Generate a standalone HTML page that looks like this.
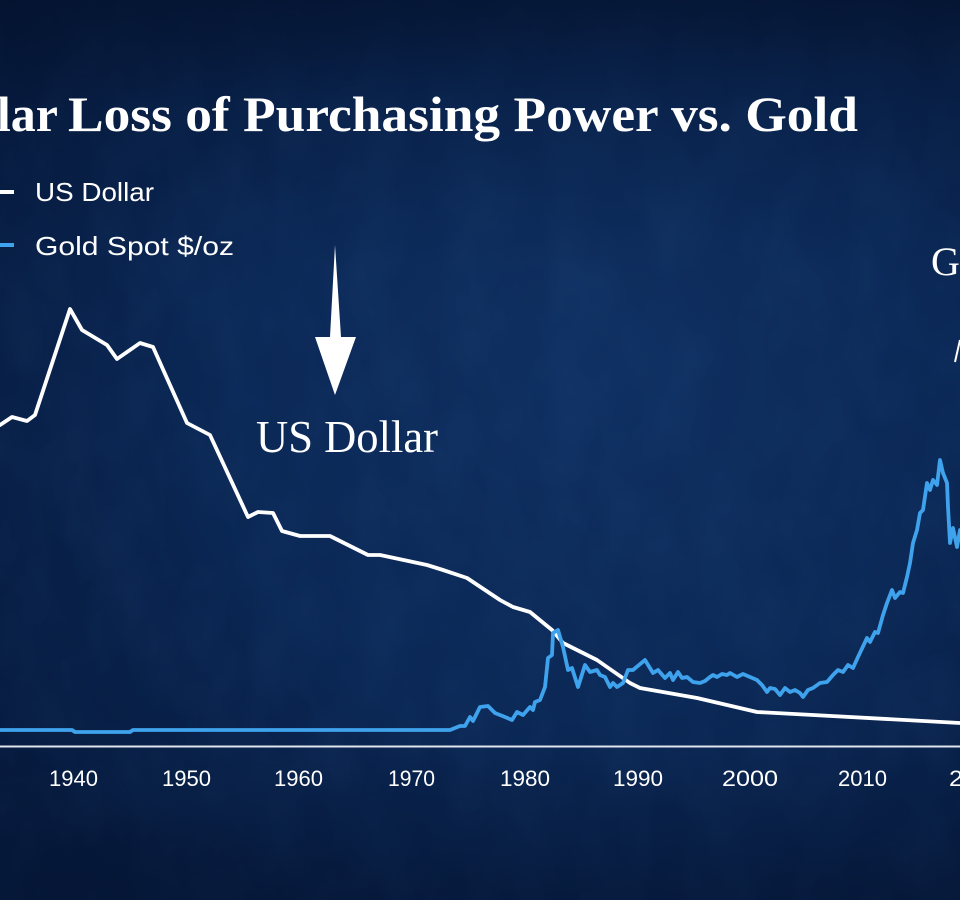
<!DOCTYPE html>
<html>
<head>
<meta charset="utf-8">
<style>
  html,body{margin:0;padding:0;background:#0a2550;}
  body{width:960px;height:900px;overflow:hidden;}
  svg{display:block;}
</style>
</head>
<body>
<svg width="960" height="900" viewBox="0 0 960 900" xmlns="http://www.w3.org/2000/svg">
  <defs>
    <radialGradient id="bg1" cx="62%" cy="42%" r="75%">
      <stop offset="0%" stop-color="#0f3062"/>
      <stop offset="50%" stop-color="#0b2856"/>
      <stop offset="100%" stop-color="#061a3e"/>
    </radialGradient>
    <linearGradient id="bgTop" x1="0" y1="0" x2="0" y2="1">
      <stop offset="0%" stop-color="#03102a" stop-opacity="0.7"/>
      <stop offset="12%" stop-color="#03102a" stop-opacity="0.25"/>
      <stop offset="30%" stop-color="#03102a" stop-opacity="0"/>
      <stop offset="82%" stop-color="#03102a" stop-opacity="0"/>
      <stop offset="100%" stop-color="#03102a" stop-opacity="0.4"/>
    </linearGradient>
    <filter id="noise" x="0" y="0" width="100%" height="100%">
      <feTurbulence type="fractalNoise" baseFrequency="0.02 0.012" numOctaves="3" seed="4"/>
      <feColorMatrix type="matrix" values="0 0 0 0 0.06  0 0 0 0 0.2  0 0 0 0 0.45  0 0 0 0.5 -0.15"/>
    </filter>
  </defs>
  <rect width="960" height="900" fill="url(#bg1)"/>
  <rect width="960" height="900" filter="url(#noise)" opacity="0.25"/>
  <rect width="960" height="900" fill="url(#bgTop)"/>

  <!-- Title -->
  <text x="58" y="131" text-anchor="end" font-family="Liberation Serif, serif" font-weight="bold" font-size="50" fill="#ffffff">Dollar</text>
  <text x="68" y="131" font-family="Liberation Serif, serif" font-weight="bold" font-size="50" fill="#ffffff" textLength="790" lengthAdjust="spacingAndGlyphs">Loss of Purchasing Power vs. Gold</text>

  <!-- Legend -->
  <line x1="-2" y1="192" x2="14" y2="192" stroke="#ffffff" stroke-width="4"/>
  <text x="35" y="201" font-family="Liberation Sans, sans-serif" font-size="26" fill="#ffffff" textLength="119" lengthAdjust="spacingAndGlyphs">US Dollar</text>
  <line x1="-2" y1="245" x2="14" y2="245" stroke="#3fa2ec" stroke-width="4"/>
  <text x="35" y="255" font-family="Liberation Sans, sans-serif" font-size="26" fill="#ffffff" textLength="199" lengthAdjust="spacingAndGlyphs">Gold Spot $/oz</text>

  <!-- Arrow -->
  <polygon points="335,245 341,337 356,337 335,395 315,337 330,337" fill="#ffffff"/>
  <text x="256" y="452" font-family="Liberation Serif, serif" font-size="46" fill="#ffffff" textLength="182" lengthAdjust="spacingAndGlyphs">US Dollar</text>

  <!-- Right annotation -->
  <text x="931" y="275" font-family="Liberation Serif, serif" font-size="40" fill="#ffffff">Gold</text>
  <line x1="955" y1="362" x2="960" y2="340" stroke="#ffffff" stroke-width="2"/>

  <!-- Axis line -->
  <line x1="0" y1="746.5" x2="960" y2="746.5" stroke="#dfe4ee" stroke-width="2"/>

  <!-- Tick labels -->
  <g font-family="Liberation Sans, sans-serif" font-size="22" fill="#ffffff" text-anchor="middle">
    <text x="73.5" y="786" textLength="49" lengthAdjust="spacingAndGlyphs">1940</text>
    <text x="186.5" y="786" textLength="49" lengthAdjust="spacingAndGlyphs">1950</text>
    <text x="298.5" y="786" textLength="49" lengthAdjust="spacingAndGlyphs">1960</text>
    <text x="411.5" y="786" textLength="47" lengthAdjust="spacingAndGlyphs">1970</text>
    <text x="525" y="786" textLength="50" lengthAdjust="spacingAndGlyphs">1980</text>
    <text x="638" y="786" textLength="50" lengthAdjust="spacingAndGlyphs">1990</text>
    <text x="750" y="786" textLength="56" lengthAdjust="spacingAndGlyphs">2000</text>
    <text x="862.5" y="786" textLength="49" lengthAdjust="spacingAndGlyphs">2010</text>
    <text x="977" y="786" textLength="56" lengthAdjust="spacingAndGlyphs">2020</text>
  </g>

  <!-- US Dollar series -->
  <polyline fill="none" stroke="#ffffff" stroke-width="3.8" stroke-linejoin="round" stroke-linecap="round"
    points="0,425 12,417 27,421 35,415 70,309 82,330 107,345 117,359 140,343 153,347 187,423 210,435 248,517 258,512 273,513 282,531 300,536 330,536 368,555 380,555 427,565 443,570 467,578 500,600 513,607 530,612 552,630 563,643 597,660 607,667 630,683 640,688 697,698 757,712 813,715 960,723"/>

  <!-- Gold series -->
  <polyline fill="none" stroke="#3fa2ec" stroke-width="3.8" stroke-linejoin="round" stroke-linecap="round"
    points="0,730 72,730 75,732 130,732 133,730 450,730 460,726 465,726 470,717 473,721 480,707 488,706 495,713 505,717 512,720 517,712 523,715 530,707 533,710 535,702 540,700 545,687 548,658 552,655 553,633 558,630 563,647 568,670 572,668 578,687 585,665 590,672 597,670 600,675 605,677 610,687 613,683 617,687 623,683 628,670 633,670 645,660 653,673 658,670 665,678 670,673 673,680 678,672 682,678 687,677 693,682 700,683 705,681 710,677 713,675 717,677 722,674 727,675 730,673 737,677 743,674 750,677 757,680 762,685 767,692 770,688 775,689 780,695 785,688 790,692 795,690 800,693 803,697 808,690 813,688 820,683 827,682 833,675 838,670 843,672 848,665 853,668 858,657 867,638 870,642 875,632 878,633 883,615 887,603 892,590 895,598 900,592 903,593 907,577 910,563 913,543 917,530 920,513 923,510 927,483 930,490 933,480 937,485 940,460 943,473 947,483 948,507 950,543 953,528 957,547 960,530"/>
</svg>
</body>
</html>
